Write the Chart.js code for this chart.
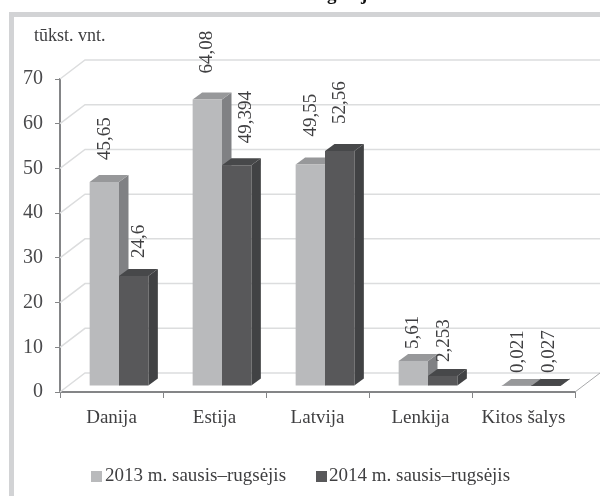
<!DOCTYPE html>
<html>
<head>
<meta charset="utf-8">
<style>
  html, body { margin: 0; padding: 0; background: #fff; overflow: hidden; }
  #wrap { position: relative; width: 600px; height: 496px; overflow: hidden; }
  #frame { position: absolute; left: 9px; top: 12px; width: 700px; height: 600px; border: 5px solid #d2d3d5; }
  canvas { position: absolute; left: 0; top: 0; filter: blur(0.5px); }
</style>
<script src="https://cdn.jsdelivr.net/npm/chart.js@4"></script>
</head>
<body>
<div id="wrap">
  <div id="frame"></div>
  <canvas id="chart" width="600" height="496"></canvas>
</div>
<script>
const categories = ["Danija", "Estija", "Latvija", "Lenkija", "Kitos šalys"];
const seriesNames = ["2013 m. sausis–rugsėjis", "2014 m. sausis–rugsėjis"];
const values2013 = [45.65, 64.08, 49.55, 5.61, 0.021];
const values2014 = [24.6, 49.394, 52.56, 2.253, 0.027];
const yTicks = [0, 10, 20, 30, 40, 50, 60, 70];

// how far each value label sits above its bar
const labelGaps = [[22, 26, 28, 12, 13], [18, 22, 27, 14, 13]];
const labelNudge = [[1, 0, 1, 0, 2], [5, 9, 0, 1, 3]];

const font = '"Liberation Serif", serif';
const textColor = "#3f3f41";
const frontColors = ["#b9babc", "#58585a"];
const sideColors = ["#808184", "#414244"];
const topColors = ["#97989a", "#47484a"];

// wall depth and bar depth of the fake 3D look
const wallDx = 25, wallDy = 19;
const barDx = 9.5, barDy = 7;
const shiftX = 7.5, shiftY = 6;

function poly(ctx, color, pts) {
  ctx.fillStyle = color;
  ctx.beginPath();
  pts.forEach((p, i) => i ? ctx.lineTo(p[0], p[1]) : ctx.moveTo(p[0], p[1]));
  ctx.closePath();
  ctx.fill();
}

const fake3d = {
  id: "fake3d",
  beforeDatasetsDraw(chart) {
    const ctx = chart.ctx;
    const area = chart.chartArea;
    const yScale = chart.scales.y;

    // back wall and side wall lines
    ctx.save();
    ctx.strokeStyle = "#dcddde";
    ctx.lineWidth = 1.5;
    yTicks.forEach((t) => {
      const y = yScale.getPixelForValue(t);
      ctx.beginPath();
      ctx.moveTo(area.left, y);
      ctx.lineTo(area.left + wallDx, y - wallDy);
      ctx.lineTo(area.right + wallDx, y - wallDy);
      ctx.stroke();
    });
    ctx.strokeStyle = "#a8a9ab";
    ctx.lineWidth = 1;
    ctx.beginPath();
    ctx.moveTo(area.right, area.bottom);
    ctx.lineTo(area.right + wallDx, area.bottom - wallDy);
    ctx.stroke();
    ctx.restore();

    ctx.save();
    ctx.translate(shiftX, -shiftY);
    chart.data.datasets.forEach((ds, i) => {
      chart.getDatasetMeta(i).data.forEach((bar) => {
        const l = bar.x - bar.width / 2;
        const r = bar.x + bar.width / 2;
        const t = bar.y;
        const b = bar.base;
        poly(ctx, sideColors[i], [[r, t], [r + barDx, t - barDy], [r + barDx, b - barDy], [r, b]]);
        poly(ctx, topColors[i], [[l, t], [l + barDx, t - barDy], [r + barDx, t - barDy], [r, t]]);
        bar.draw(ctx);
      });
    });
    ctx.restore();

    // value labels
    ctx.save();
    ctx.fillStyle = textColor;
    ctx.font = "19px " + font;
    ctx.textAlign = "left";
    ctx.textBaseline = "middle";
    chart.data.datasets.forEach((ds, i) => {
      chart.getDatasetMeta(i).data.forEach((bar, k) => {
        ctx.save();
        ctx.translate(bar.x + shiftX + labelNudge[i][k], bar.y - shiftY - labelGaps[i][k]);
        ctx.rotate(-Math.PI / 2);
        ctx.fillText(String(ds.data[k]).replace(".", ","), 0, 0);
        ctx.restore();
      });
    });
    ctx.restore();

    // unit caption, cut off title and legend
    ctx.save();
    ctx.fillStyle = textColor;
    ctx.font = "18px " + font;
    ctx.textBaseline = "middle";
    ctx.fillText("tūkst. vnt.", 34, 36);

    ctx.font = "19px " + font;
    ctx.fillStyle = frontColors[0];
    ctx.fillRect(91, 471, 11, 11);
    ctx.fillStyle = frontColors[1];
    ctx.fillRect(316, 471, 11, 11);
    ctx.fillStyle = textColor;
    ctx.fillText(seriesNames[0], 105, 476);
    ctx.fillText(seriesNames[1], 329, 476);

    ctx.fillStyle = "#111";
    ctx.font = "bold 19px " + font;
    ctx.textBaseline = "alphabetic";
    ctx.fillText("g", 327, 0);
    ctx.fillText("j", 361, 0);
    ctx.restore();
    return false;
  },
};

new Chart(document.getElementById("chart"), {
  type: "bar",
  data: {
    labels: categories,
    datasets: [
      { label: seriesNames[0], data: values2013, backgroundColor: frontColors[0] },
      { label: seriesNames[1], data: values2014, backgroundColor: frontColors[1] },
    ],
  },
  plugins: [fake3d],
  options: {
    responsive: false,
    animation: false,
    layout: { padding: { top: 79, right: 25, bottom: 39, left: 0 } },
    datasets: { bar: { categoryPercentage: 0.57, barPercentage: 1 } },
    scales: {
      x: {
        grid: { drawOnChartArea: false, color: "#848587", tickLength: 6 },
        border: { color: "#848587", width: 2 },
        ticks: { color: textColor, font: { family: font, size: 19 }, padding: 9, maxRotation: 0 },
        afterFit: (s) => { s.height = 65; },
      },
      y: {
        min: 0,
        max: 70,
        grid: { drawOnChartArea: false, color: "#848587", tickLength: 5 },
        border: { color: "#848587", width: 2 },
        ticks: { stepSize: 10, color: "#4a4a4c", font: { family: font, size: 20 }, padding: 12 },
        afterFit: (s) => { s.width = 60; },
      },
    },
    plugins: {
      tooltip: { enabled: false },
      legend: { display: false },
    },
  },
});
</script>
</body>
</html>
